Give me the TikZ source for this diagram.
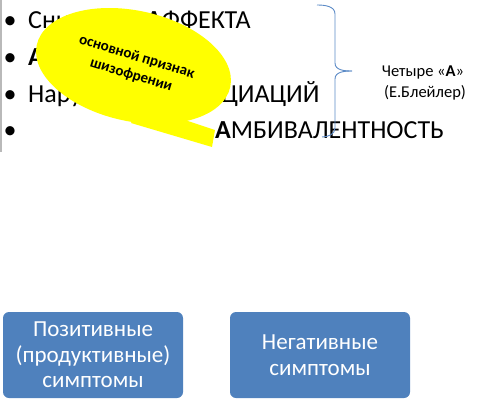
\documentclass[tikz,border=0pt]{standalone}
\usepackage{fontspec}
\setmainfont{Carlito}
\definecolor{boxblue}{HTML}{4F81BD}
\definecolor{bracecol}{HTML}{5B8AC6}
\definecolor{callout}{HTML}{FFFF00}
\begin{document}
\begin{tikzpicture}[x=1pt,y=-1pt,
  item/.style={anchor=base west, inner sep=0pt, font=\fontsize{26}{30}\selectfont},
  bul/.style={anchor=base, inner sep=0pt, font=\fontsize{26}{30}\selectfont},
  symbox/.style={fill=boxblue, rounded corners=6pt, text=white, align=center,
    font=\fontsize{23}{25.5}\selectfont, minimum width=180pt, minimum height=86pt, inner sep=0pt},
  note/.style={anchor=center, inner sep=0pt, font=\fontsize{16.5}{21}\selectfont, align=center}]
\useasboundingbox (0,0) rectangle (480,400);
% left grey edge
\draw[gray!55, line width=1.5pt] (0.75,0) -- (0.75,152);
% bullets
\node[bul] (b1) at (10,28) {•};
\node[bul] (b2) at (10,65) {•};
\node[bul] (b3) at (10,102) {•};
\node[bul] (b4) at (10,138) {•};
% items
\node[item] (t1) at (28,28) {Снижение};
\node[item, anchor=base east] (t1b) at (251,28) {\textbf{А}ФФЕКТА};
\node[item] (t2) at (28,65) {\textbf{А}УТИЗМ};
\node[item] (t3) at (28,102) {Нарушение \textbf{А}ССОЦИАЦИЙ};
\node[item] (t4) at (215,138) {\textbf{А}МБИВАЛЕНТНОСТЬ};
% yellow callout
\fill[callout] (133.5,66) ellipse [x radius=99, y radius=55.3, rotate=-12.3];
\fill[callout] (140,108) -- (131,123) -- (212,147) -- (215,130) -- (188,121) -- cycle;
\node[rotate=-17, align=center, inner sep=0pt,
  font=\fontsize{15}{19}\selectfont\bfseries] (c) at (134,66) {основной признак\\шизофрении};
% brace
\draw[bracecol, line width=0.9pt] (317,5) to[out=0,in=90] (335,14) -- (335,63)
  to[out=-90,in=180] (352,71);
\draw[bracecol, line width=0.9pt] (352,71) to[out=180,in=90] (335,79) -- (335,128)
  to[out=-90,in=0] (322,137);
\node[note] (n1) at (423,72) {Четыре «\textbf{А}»};
\node[note] (n2) at (425,93) {(Е.Блейлер)};
% boxes
\node[symbox] (pos) at (93,355) {Позитивные\\(продуктивные)\\симптомы};
\node[symbox] (neg) at (320,355) {Негативные\\симптомы};
\end{tikzpicture}
\end{document}
